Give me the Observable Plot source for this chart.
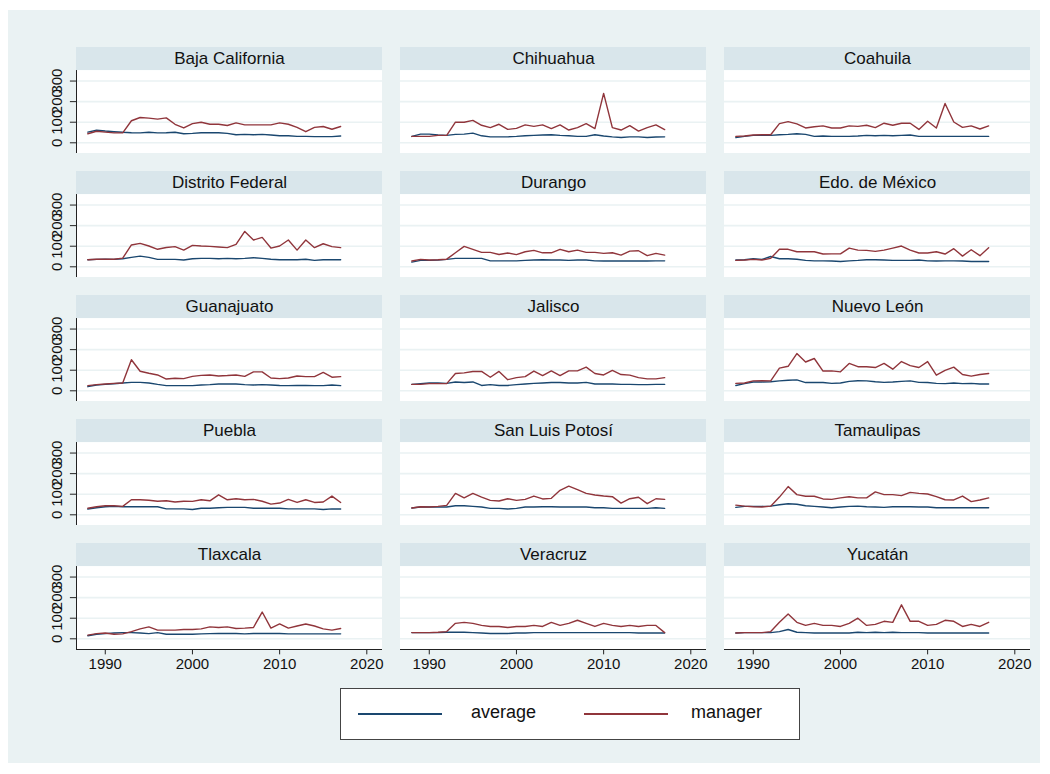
<!DOCTYPE html>
<html><head><meta charset="utf-8">
<script src="https://cdn.jsdelivr.net/npm/d3@7"></script>
<script src="https://cdn.jsdelivr.net/npm/@observablehq/plot@0.6"></script>
<style>
body{margin:0;background:#fff;font-family:"Liberation Sans",Arial,sans-serif;}
#bg{position:absolute;left:8px;top:10px;width:1032px;height:753px;background:#eaf2f3;}
#chart{position:absolute;left:0;top:0;}
#legend{position:absolute;left:340px;top:688px;width:460px;height:52px;background:#fff;border:1px solid #444;box-sizing:border-box;font-size:18px;color:#111;}
.sw{position:absolute;top:24px;height:0;border-top:2px solid;}
.lb{position:absolute;top:13px;}
</style></head>
<body><div id="bg"></div><div id="chart"></div>
<div id="legend"></div>
<script>
const years = [1988,1989,1990,1991,1992,1993,1994,1995,1996,1997,1998,1999,2000,2001,2002,2003,2004,2005,2006,2007,2008,2009,2010,2011,2012,2013,2014,2015,2016,2017];
const states = ["Baja California","Chihuahua","Coahuila","Distrito Federal","Durango","Edo. de México","Guanajuato","Jalisco","Nuevo León","Puebla","San Luis Potosí","Tamaulipas","Tlaxcala","Veracruz","Yucatán"];
const seriesNames = ["average","manager"];
const seriesColors = ["#1a476f","#90353b"];
const yTicks = [0,100,200,300];
const xTicks = [1990,2000,2010,2020];

const avgBajaCalifornia = [52,61,57,54,51,49,48,51,48,49,51,44,46,49,49,49,46,39,41,39,41,38,34,34,31,31,30,30,30,33];
const mgrBajaCalifornia = [44,56,52,48,48,107,123,120,115,121,90,72,93,100,90,90,84,97,87,87,87,87,97,90,75,54,75,79,66,79];
const avgChihuahua = [31,42,42,38,36,41,42,47,34,29,29,29,31,34,36,38,39,36,34,31,31,39,33,29,26,29,29,26,28,29];
const mgrChihuahua = [31,31,31,36,36,100,100,109,85,74,90,65,70,87,80,87,69,87,62,74,93,69,240,74,62,83,57,74,87,64];
const avgCoahuila = [25,31,36,36,36,39,41,44,41,31,33,31,31,31,33,36,34,36,34,36,38,31,31,31,31,31,31,31,31,31];
const mgrCoahuila = [31,33,38,39,39,93,103,92,72,78,82,72,72,82,80,85,74,95,85,95,95,65,105,72,191,101,75,82,67,82];
const avgDistritoFederal = [34,36,37,36,39,46,52,46,36,36,36,33,39,41,41,39,41,39,41,44,41,37,34,34,34,37,31,34,34,34];
const mgrDistritoFederal = [34,37,37,37,42,106,114,101,85,94,98,81,104,101,99,96,93,109,172,130,143,91,101,130,81,130,93,112,98,93];
const avgDurango = [23,31,31,33,36,41,41,41,41,29,29,29,29,31,33,34,33,33,31,33,33,29,28,28,28,28,28,28,29,29];
const mgrDurango = [28,36,33,34,37,68,99,85,70,70,60,67,59,73,80,68,68,85,73,81,70,70,65,68,57,76,78,54,65,57];
const avgEdoMexico = [33,34,39,36,50,39,39,37,31,29,29,28,26,29,31,34,34,33,31,31,31,33,29,28,29,29,28,26,26,26];
const mgrEdoMexico = [31,33,36,33,41,85,85,73,73,73,62,63,63,91,81,80,75,81,91,101,81,67,67,73,62,88,52,83,54,93];
const avgGuanajuato = [20,28,31,34,38,41,41,38,31,25,25,25,25,28,30,33,33,33,30,28,30,28,26,25,26,26,25,25,28,25];
const mgrGuanajuato = [25,30,33,36,38,151,95,85,77,57,61,59,70,75,77,72,74,77,70,92,92,62,59,62,72,69,69,89,66,69];
const avgJalisco = [31,35,38,38,36,43,40,43,26,30,26,26,30,33,36,38,40,40,38,38,41,33,33,33,31,31,30,30,31,31];
const mgrJalisco = [31,31,35,35,35,84,87,94,94,66,94,54,64,69,96,74,97,74,97,97,115,84,77,99,79,76,64,58,58,64];
const avgNuevoLeon = [26,35,43,43,44,48,51,53,40,40,40,36,38,46,49,48,44,41,43,46,48,41,40,36,35,38,35,36,33,33];
const mgrNuevoLeon = [36,38,48,49,48,110,119,181,140,157,96,97,92,133,117,117,113,133,105,142,122,113,142,76,99,115,79,71,79,84];
const avgPuebla = [28,34,39,41,39,39,39,39,39,29,29,29,26,32,32,34,36,36,36,32,32,32,32,29,29,29,29,26,29,28];
const mgrPuebla = [32,39,44,44,41,73,73,71,66,68,62,66,65,73,68,97,73,78,73,75,66,52,57,75,60,73,60,62,91,60];
const avgSanLuisPotosi = [33,38,38,38,38,44,44,41,38,31,31,28,31,38,38,39,39,38,38,38,38,34,34,31,31,31,31,31,34,31];
const mgrSanLuisPotosi = [33,39,38,41,46,104,82,104,86,70,67,78,70,75,91,77,80,119,139,122,104,96,91,88,57,78,85,54,78,75];
const avgTamaulipas = [36,41,41,41,42,49,54,51,44,41,38,34,38,41,42,39,38,36,39,39,39,38,38,34,34,34,34,34,34,34];
const mgrTamaulipas = [47,42,39,38,42,86,137,98,90,90,77,75,82,88,82,82,111,98,98,93,109,104,101,88,73,72,91,64,72,82];
const avgTlaxcala = [15,22,25,28,30,30,28,25,30,22,22,22,22,24,25,26,26,26,24,26,26,26,26,24,24,24,24,24,24,24];
const mgrTlaxcala = [18,25,28,22,24,35,48,58,42,42,42,45,45,48,58,55,58,50,52,55,130,52,72,52,62,72,62,48,42,50];
const avgVeracruz = [30,30,30,30,32,32,32,30,28,26,26,26,28,28,30,30,30,30,30,30,30,30,30,30,30,30,28,28,28,28];
const mgrVeracruz = [30,30,30,32,35,75,80,75,65,60,60,55,60,60,65,60,80,65,75,90,75,60,75,65,60,65,60,65,65,30];
const avgYucatan = [28,30,30,30,30,35,45,32,30,28,28,28,28,28,32,30,32,30,32,30,30,30,28,28,28,28,28,28,28,28];
const mgrYucatan = [28,30,30,30,35,80,120,80,65,75,65,65,60,75,100,65,70,85,80,165,85,85,65,70,90,85,60,70,60,80];

const avgSeries = [avgBajaCalifornia,avgChihuahua,avgCoahuila,avgDistritoFederal,avgDurango,avgEdoMexico,avgGuanajuato,avgJalisco,avgNuevoLeon,avgPuebla,avgSanLuisPotosi,avgTamaulipas,avgTlaxcala,avgVeracruz,avgYucatan];
const mgrSeries = [mgrBajaCalifornia,mgrChihuahua,mgrCoahuila,mgrDistritoFederal,mgrDurango,mgrEdoMexico,mgrGuanajuato,mgrJalisco,mgrNuevoLeon,mgrPuebla,mgrSanLuisPotosi,mgrTamaulipas,mgrTlaxcala,mgrVeracruz,mgrYucatan];

const panels = states.map((name, i) => ({name, row: Math.floor(i/3), col: i%3}));
const table = [];
panels.forEach((p, i) => {
  years.forEach((yr, j) => {
    table.push({...p, year: yr, series: "average", value: avgSeries[i][j]});
  });
  years.forEach((yr, j) => {
    table.push({...p, year: yr, series: "manager", value: mgrSeries[i][j]});
  });
});
const leftPanels = panels.filter(p => p.col === 0);
const bottomPanels = panels.filter(p => p.row === 4);
const yTickData = leftPanels.flatMap(p => yTicks.map(v => ({...p, v})));
const xTickData = bottomPanels.flatMap(p => xTicks.map(v => ({...p, v})));

const XMIN = 1986.7, XMAX = 2021.8, YMIN = -52, YPLOT = 351, YTOP = 463;
const fxy = {fx: "col", fy: "row"};

const chart = Plot.plot({
  width: 1050, height: 680,
  marginLeft: 76, marginRight: 20, marginTop: 47, marginBottom: 31,
  style: {background: "transparent", fontFamily: "'Liberation Sans', Arial, sans-serif"},
  x: {domain: [XMIN, XMAX], axis: null},
  y: {domain: [YMIN, YTOP], axis: null},
  fx: {domain: [0,1,2], axis: null, paddingInner: 18/324, paddingOuter: 0, round: false},
  fy: {domain: [0,1,2,3,4], axis: null, paddingInner: 18/124, paddingOuter: 0, round: false},
  color: {domain: seriesNames, range: seriesColors},
  marks: [
    Plot.rect(panels, {...fxy, x1: () => XMIN, x2: () => XMAX, y1: () => YMIN, y2: () => YPLOT, fill: "white"}),
    Plot.rect(panels, {...fxy, x1: () => XMIN, x2: () => XMAX, y1: () => YPLOT, y2: () => YTOP, fill: "#d9e6eb"}),
    Plot.text(panels, {...fxy, x: () => (XMIN + XMAX) / 2, y: () => (YPLOT + YTOP) / 2, text: "name", fontSize: 17, fill: "#111"}),
    Plot.ruleY(yTicks, {stroke: "#eaf2f3", strokeWidth: 1.6}),
    Plot.line(table, {...fxy, x: "year", y: "value", z: "series", stroke: "series", strokeWidth: 1.4}),
    Plot.ruleX(leftPanels, {...fxy, x: () => XMIN, y1: () => YMIN, y2: () => YPLOT, stroke: "#222", strokeWidth: 1}),
    Plot.ruleY(yTickData, {...fxy, y: "v", x1: () => XMIN - 0.7, x2: () => XMIN, stroke: "#222", strokeWidth: 1}),
    Plot.text(yTickData, {...fxy, x: () => XMIN, y: "v", text: d => String(d.v), rotate: -90, dx: -19, fontSize: 15, fill: "#111"}),
    Plot.ruleY(bottomPanels, {...fxy, y: () => YMIN, x1: () => XMIN, x2: () => XMAX, stroke: "#222", strokeWidth: 1}),
    Plot.ruleX(xTickData, {...fxy, x: "v", y1: () => YMIN, y2: () => YMIN - 26, stroke: "#222", strokeWidth: 1}),
    Plot.text(xTickData, {...fxy, x: "v", y: () => YMIN, dy: 15, text: d => String(d.v), fontSize: 15, fill: "#111"})
  ]
});
document.getElementById("chart").appendChild(chart);

const legend = document.getElementById("legend");
const items = [{x: 17, lx: 130}, {x: 243, lx: 350}];
seriesNames.forEach((s, i) => {
  const sw = document.createElement("div");
  sw.className = "sw"; sw.style.left = items[i].x + "px"; sw.style.width = "84px"; sw.style.borderColor = seriesColors[i];
  legend.appendChild(sw);
  const lb = document.createElement("div");
  lb.className = "lb"; lb.style.left = items[i].lx + "px"; lb.textContent = s;
  legend.appendChild(lb);
});
</script>
</body></html>
